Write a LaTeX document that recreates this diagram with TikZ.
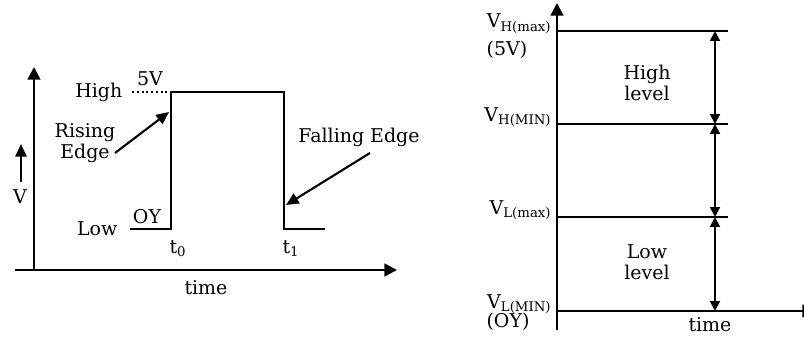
\documentclass[tikz,border=0pt]{standalone}
\usepackage{fontspec}
\setmainfont{DejaVu Serif}
\usetikzlibrary{arrows.meta}
\tikzset{
  axis/.style={line width=1.8pt,-{Triangle[length=9pt,width=9pt]}},
  wave/.style={line width=1.5pt},
  pointer/.style={line width=1.5pt,-{Triangle[length=9pt,width=8pt]}},
  span/.style={line width=1.4pt,{Triangle[length=7pt,width=7pt]}-{Triangle[length=7pt,width=7pt]}},
  lbl/.style={inner sep=1pt,font=\fontsize{13.5}{15}\selectfont,align=center},
  vlbl/.style={lbl,anchor=base east}
}
\begin{document}
\begin{tikzpicture}[x=0.025cm,y=0.025cm]
  \useasboundingbox (0,0) rectangle (804,337);
  % Pulse: axes
  \coordinate (O) at (34,67);
  \coordinate (ytip) at (34,270);
  \coordinate (xstart) at (15,67);
  \coordinate (xtip) at (397,67);
  \draw[axis] (O) -- (ytip);
  \draw[axis] (xstart) -- (xtip);
  \node[lbl] (time1) at (206,49) {time};
  % small V arrow
  \coordinate (vfoot) at (21,155);
  \coordinate (vhead) at (21,193);
  \draw[pointer] (vfoot) -- (vhead);
  \node[lbl] (vsym) at (20,140) {V};
  % Pulse: waveform
  \coordinate (lowstart) at (130,108);
  \coordinate (t0) at (171,108);
  \coordinate (top0) at (171,245);
  \coordinate (top1) at (284,245);
  \coordinate (t1) at (284,108);
  \coordinate (lowend) at (325,108);
  \draw[wave] (lowstart) -- (t0) -- (top0) -- (top1) -- (t1) -- (lowend);
  \coordinate (dotstart) at (132,245);
  \draw[line width=1.4pt,dotted] (dotstart) -- (top0);
  \node[lbl,anchor=east] (high) at (124,245) {High};
  \node[lbl] (five) at (150,258) {5V};
  \node[lbl,anchor=east] (low) at (119,108) {Low};
  \node[lbl] (oy1) at (147,120) {OY};
  \node[lbl] (lt0) at (178,88) {t\textsubscript{0}};
  \node[lbl] (lt1) at (291,88) {t\textsubscript{1}};
  % Edge labels
  \node[lbl] (rising) at (85,194) {Rising\\Edge};
  \coordinate (rfrom) at (115,184);
  \coordinate (rto) at (169,225);
  \draw[pointer] (rfrom) -- (rto);
  \node[lbl] (falling) at (359,200) {Falling Edge};
  \coordinate (ffrom) at (370,184);
  \coordinate (fto) at (286,132);
  \draw[pointer] (ffrom) -- (fto);
  % Levels: axes
  \coordinate (P) at (557,26);
  \coordinate (pbot) at (557,7);
  \coordinate (ptip) at (557,334);
  \coordinate (qtip) at (815,26);
  \draw[axis] (pbot) -- (ptip);
  \draw[axis] (P) -- (qtip);
  \node[lbl] (time2) at (710,12) {time};
  % Levels: thresholds
  \foreach \name/\y in {hmax/306,hmin/213,lmax/120}
    \draw[wave] (557,\y) coordinate (\name) -- (728,\y);
  \coordinate (lmin) at (557,26);
  \coordinate (ahmax) at (715,306);
  \coordinate (ahmin) at (715,213);
  \coordinate (almax) at (715,120);
  \coordinate (almin) at (715,26);
  \draw[span] (ahmax) -- (ahmin);
  \draw[span] (ahmin) -- (almax);
  \draw[span] (almax) -- (almin);
  \node[lbl] (highlvl) at (647,254) {High\\level};
  \node[lbl] (lowlvl) at (647,75) {Low\\level};
  \node[vlbl] (vhmax) at (553,309) {V\textsubscript{H(max)}};
  \node[lbl] (fivev) at (507,287) {(5V)};
  \node[vlbl] (vhmin) at (553,216) {V\textsubscript{H(MIN)}};
  \node[vlbl] (vlmax) at (553,123) {V\textsubscript{L(max)}};
  \node[vlbl] (vlmin) at (553,29) {V\textsubscript{L(MIN)}};
  \node[lbl] (oy2) at (508,15) {(OY)};
\end{tikzpicture}
\end{document}
